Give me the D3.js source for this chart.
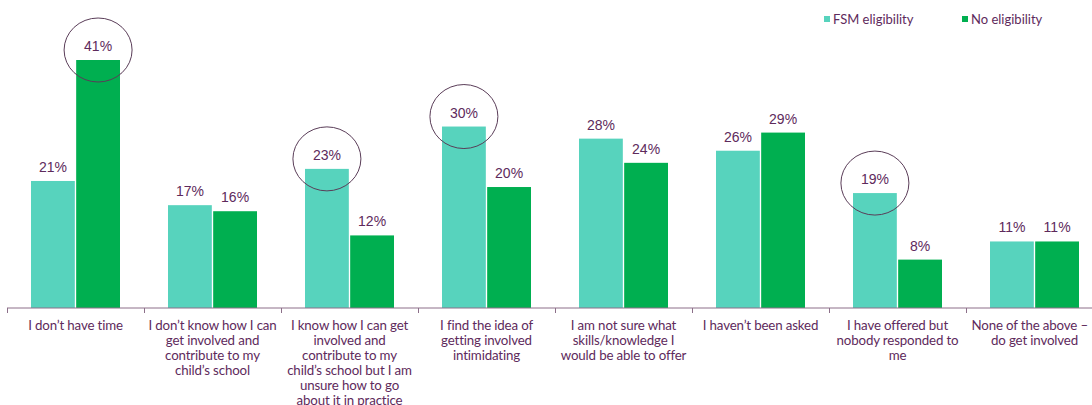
<!DOCTYPE html>
<html>
<head>
<meta charset="utf-8">
<script src="https://cdn.jsdelivr.net/npm/d3@7"></script>
<style>
  html, body { margin: 0; padding: 0; background: #fff; }
  svg { display: block; font-family: Lato, "Open Sans", sans-serif; }
</style>
</head>
<body>
<svg id="chart" width="1092" height="405"></svg>
<script>
// Reasons for not getting involved with the child's school, by FSM eligibility
const categories = [
  "I don’t have time",
  "I don’t know how I can\nget involved and\ncontribute to my\nchild’s school",
  "I know how I can get\ninvolved and\ncontribute to my\nchild’s school but I am\nunsure how to go\nabout it in practice",
  "I find the idea of\ngetting involved\nintimidating",
  "I am not sure what\nskills/knowledge I\nwould be able to offer",
  "I haven’t been asked",
  "I have offered but\nnobody responded to\nme",
  "None of the above –\ndo get involved"
];
const seriesNames = ["FSM eligibility", "No eligibility"];
const fsmValues = [21, 17, 23, 30, 28, 26, 19, 11];
const noValues  = [41, 16, 12, 20, 24, 29, 8, 11];
// Highlighted bars: [category index, series index]
const highlighted = [[0, 1], [2, 0], [3, 0], [6, 0]];

const colors = { "FSM eligibility": "#57d3bd", "No eligibility": "#00af50" };
const textColor = "#5e2a5c";
const axisColor = "#8c6f89";

const W = 1092;
const svg = d3.select("#chart");
const baseY = 308;

const x0 = d3.scaleBand().domain(d3.range(categories.length)).range([7, 1103]);
const x1 = d3.scaleBand().domain(seriesNames).range([24, 24 + 89]).paddingInner(0.03);
const y = d3.scaleLinear().domain([0, 41]).range([baseY, 60]);

const rows = categories.map((c, i) => ({
  i, label: c,
  values: [
    { s: seriesNames[0], v: fsmValues[i] },
    { s: seriesNames[1], v: noValues[i] }
  ]
}));

// Bars
const groups = svg.append("g").selectAll("g").data(rows).join("g")
  .attr("transform", d => `translate(${x0(d.i)},0)`);

groups.selectAll("rect").data(d => d.values).join("rect")
  .attr("x", d => x1(d.s))
  .attr("y", d => y(d.v))
  .attr("width", x1.bandwidth())
  .attr("height", d => baseY - y(d.v))
  .attr("fill", d => colors[d.s]);

groups.selectAll("text.val").data(d => d.values).join("text")
  .attr("class", "val")
  .attr("x", d => x1(d.s) + x1.bandwidth() / 2)
  .attr("y", d => y(d.v) - 9)
  .attr("text-anchor", "middle")
  .attr("fill", textColor)
  .attr("font-family", "'Liberation Sans', Arial, sans-serif")
  .attr("font-size", 14)
  .text(d => d.v + "%");

// Highlight rings around selected labels
svg.append("g").selectAll("ellipse").data(highlighted).join("ellipse")
  .attr("cx", d => x0(d[0]) + x1(seriesNames[d[1]]) + x1.bandwidth() / 2)
  .attr("cy", d => y(d[1] === 0 ? fsmValues[d[0]] : noValues[d[0]]) - 10)
  .attr("rx", 34)
  .attr("ry", 32)
  .attr("fill", "none")
  .attr("stroke", "#5a3d58")
  .attr("stroke-width", 1);

// Category axis
const axis = svg.append("g").attr("transform", `translate(0,${baseY})`);
axis.append("line")
  .attr("x1", 7).attr("x2", W)
  .attr("stroke", axisColor).attr("stroke-width", 1);
axis.selectAll("line.tick").data(d3.range(categories.length)).join("line")
  .attr("class", "tick")
  .attr("x1", d => x0(d) + 0.5).attr("x2", d => x0(d) + 0.5)
  .attr("y1", 0).attr("y2", 5)
  .attr("stroke", axisColor);

const labels = axis.selectAll("text").data(rows).join("text")
  .attr("text-anchor", "middle")
  .attr("fill", textColor)
  .attr("font-size", 13.3)
  .attr("letter-spacing", -0.15)
  .attr("transform", d => `translate(${x0(d.i) + x0.bandwidth() / 2},22)`);
labels.selectAll("tspan").data(d => d.label.split("\n")).join("tspan")
  .attr("x", 0)
  .attr("dy", (d, k) => k === 0 ? 0 : 15)
  .text(d => d);

// Keep label lines inside the right edge of the chart
labels.each(function (d) {
  const cx = x0(d.i) + x0.bandwidth() / 2;
  d3.select(this).selectAll("tspan").each(function () {
    const half = this.getComputedTextLength() / 2;
    const over = cx + half - (W - 4);
    if (over > 0) d3.select(this).attr("x", -over);
  });
});

// Legend
const legend = svg.append("g").selectAll("g").data(seriesNames).join("g")
  .attr("transform", (d, k) => `translate(${[824, 962][k]},19)`);
legend.append("rect")
  .attr("x", 0).attr("y", -3).attr("width", 6).attr("height", 6)
  .attr("fill", d => colors[d]);
legend.append("text")
  .attr("x", 9).attr("y", 4.5)
  .attr("fill", textColor)
  .attr("font-size", 13)
  .text(d => d);
</script>
</body>
</html>
